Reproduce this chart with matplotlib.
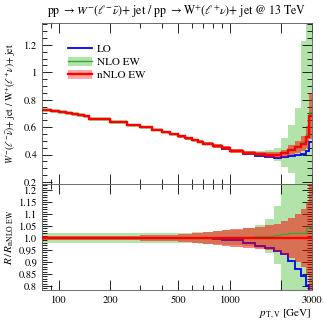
import numpy as np
import matplotlib
matplotlib.use("Agg")
import matplotlib.pyplot as plt
from matplotlib.lines import Line2D
from matplotlib.patches import Patch
from matplotlib.ticker import FixedLocator, NullFormatter

plt.rcParams['font.family'] = 'STIXGeneral'
plt.rcParams['mathtext.fontset'] = 'stix'

# ---- data ----
edges = [80, 90, 100, 110, 120, 130, 140, 150, 200, 250, 300, 350, 400, 450, 500,
         550, 600, 650, 700, 800, 900, 1000, 1200, 1400, 1600, 1800, 2000, 2200,
         2400, 2600, 2800, 2900, 3000]
nnlo = [0.728, 0.720, 0.713, 0.703, 0.695, 0.687, 0.678, 0.660, 0.636, 0.612,
        0.598, 0.580, 0.563, 0.547, 0.532, 0.518, 0.505, 0.493, 0.478, 0.462,
        0.447, 0.428, 0.412, 0.404, 0.398, 0.398, 0.408, 0.430, 0.455, 0.480,
        0.530, 0.680]
lo = [0.728, 0.720, 0.713, 0.703, 0.695, 0.687, 0.678, 0.660, 0.636, 0.612,
      0.598, 0.580, 0.563, 0.547, 0.532, 0.518, 0.504, 0.492, 0.477, 0.460,
      0.444, 0.424, 0.403, 0.391, 0.381, 0.377, 0.381, 0.389, 0.396, 0.403,
      0.424, 0.490]
nlo = [0.728, 0.720, 0.713, 0.703, 0.695, 0.687, 0.678, 0.660, 0.636, 0.612,
       0.598, 0.580, 0.563, 0.547, 0.532, 0.518, 0.505, 0.493, 0.478, 0.462,
       0.448, 0.429, 0.414, 0.407, 0.402, 0.403, 0.415, 0.438, 0.464, 0.490,
       0.551, 0.711]
nlo_unc = [0.02, 0.02, 0.02, 0.02, 0.02, 0.02, 0.02, 0.02, 0.02, 0.02,
           0.02, 0.02, 0.021, 0.021, 0.022, 0.022, 0.023, 0.024, 0.025, 0.027,
           0.03, 0.032, 0.037, 0.047, 0.07, 0.12, 0.25, 0.40, 0.6, 1.5,
           2.0, 2.0]
nnlo_unc = [0.007, 0.007, 0.007, 0.007, 0.007, 0.007, 0.007, 0.008, 0.009, 0.010,
            0.011, 0.012, 0.013, 0.014, 0.015, 0.017, 0.019, 0.021, 0.024, 0.028,
            0.032, 0.036, 0.040, 0.045, 0.052, 0.06, 0.07, 0.085, 0.10, 0.12,
            0.15, 0.25]
top_yticks = [0.2, 0.4, 0.6, 0.8, 1.0, 1.2]
top_yticklabels = ['0.2', '0.4', '0.6', '0.8', '1', '1.2']
bot_yticks = [0.8, 0.85, 0.9, 0.95, 1.0, 1.05, 1.1, 1.15, 1.2]
bot_yticklabels = ['0.8', '0.85', '0.9', '0.95', '1.0', '1.05', '1.1', '1.15', '1.2']
xticks = [100, 200, 500, 1000, 2000, 3000]
xticklabels = ['100', '200', '500', '1000', '', '3000']
xminor = [90, 300, 400, 600, 700, 800, 900]

edges = np.array(edges, float)
nnlo = np.array(nnlo); lo = np.array(lo); nlo = np.array(nlo)
nlo_unc = np.array(nlo_unc); nnlo_unc = np.array(nnlo_unc)

c_blue = '#0000ff'
c_green = '#33aa33'
c_gband = '#b2e4aa'
c_red = '#ff0000'

fig = plt.figure(figsize=(3.24, 3.25), dpi=100)
L, R = 42/324, 311.5/324
y_top, y_sep, y_bot = 1-23/325, 1-184/325, 1-290/325
ax1 = fig.add_axes([L, y_sep, R-L, y_top-y_sep])
ax2 = fig.add_axes([L, y_bot, R-L, y_sep-y_bot], sharex=ax1)

def draw(ax, lo_v, nlo_v, nnlo_v, nlo_lo, nlo_hi, nnlo_lo, nnlo_hi):
    ax.stairs(nlo_hi, edges, baseline=nlo_lo, fill=True, color=c_gband, lw=0, zorder=1)
    ax.stairs(lo_v, edges, color=c_blue, lw=1.3, zorder=2, baseline=None)
    ax.stairs(nnlo_hi, edges, baseline=nnlo_lo, fill=True, color=c_red, alpha=0.5, lw=0, zorder=3)
    ax.stairs(nlo_v, edges, color=c_green, lw=1.0, zorder=4, baseline=None)
    ax.stairs(nnlo_v, edges, color=c_red, lw=1.7, zorder=5, baseline=None)

draw(ax1, lo, nlo, nnlo, nlo*(1-nlo_unc), nlo*(1+nlo_unc),
     nnlo*(1-nnlo_unc), nnlo*(1+nnlo_unc))
draw(ax2, lo/nnlo, nlo/nnlo, nnlo/nnlo, nlo*(1-nlo_unc)/nnlo, nlo*(1+nlo_unc)/nnlo,
     1-nnlo_unc, 1+nnlo_unc)

for ax in (ax1, ax2):
    ax.set_xscale('log')
    ax.set_xlim(80, 3000)
    ax.xaxis.set_major_locator(FixedLocator(xticks))
    ax.xaxis.set_minor_locator(FixedLocator(xminor))
    ax.xaxis.set_minor_formatter(NullFormatter())
    ax.tick_params(which='both', direction='in', top=True, right=True, labelsize=7.5)
    ax.tick_params(which='major', length=7, width=0.6)
    ax.tick_params(which='minor', length=3.5, width=0.6)
    for s in ax.spines.values():
        s.set_linewidth(0.6)
        s.set_color('#555555')

ax1.set_ylim(0.185, 1.36)
ax1.set_yticks(top_yticks)
ax1.set_yticklabels(top_yticklabels)
ax1.yaxis.set_minor_locator(FixedLocator(np.arange(0.2, 1.36, 0.05)))
ax1.tick_params(axis='x', labelbottom=False)

ax2.set_ylim(0.783, 1.225)
ax2.set_yticks(bot_yticks)
ax2.set_yticklabels(bot_yticklabels)
ax2.yaxis.set_minor_locator(FixedLocator(np.arange(0.79, 1.225, 0.01)))
ax2.set_xticklabels(xticklabels)

fig.text(0.5+0.045, 1-12/325,
         r"pp $\rightarrow W^{-}(\ell^{-}\bar{\nu})$+ jet / pp $\rightarrow$W$^{+}(\ell^{+}\nu)$+ jet @ 13 TeV",
         ha='center', va='center', fontsize=8.6)
ax1.set_ylabel(r"$W^{-}(\ell^{-}\bar{\nu})$+ jet / W$^{+}(\ell^{+}\nu)$+ jet", fontsize=6.9)
ax2.set_ylabel(r"$R\,/\,R_{\mathrm{nNLO\ EW}}$", fontsize=8)
ax1.yaxis.set_label_coords(-0.09, 0.5)
ax2.yaxis.set_label_coords(-0.095, 0.5)
ax2.set_xlabel(r"$p_{\mathrm{T,V}}$ [GeV]", fontsize=8, ha='right', x=1.0, labelpad=2)

handles = [Line2D([], [], color=c_blue, lw=1.3),
           (Patch(color=c_gband, lw=0), Line2D([], [], color=c_green, lw=1.0)),
           (Patch(color=c_red, alpha=0.35, lw=0), Line2D([], [], color=c_red, lw=1.7))]
ax1.legend(handles, ['LO', 'NLO EW', 'nNLO EW'], loc='upper left',
           bbox_to_anchor=(0.08, 0.9), frameon=False, fontsize=8,
           handlelength=2.2, handleheight=0.9, labelspacing=0.25, handletextpad=0.4,
           borderaxespad=0)

fig.savefig('out.png', dpi=100)
